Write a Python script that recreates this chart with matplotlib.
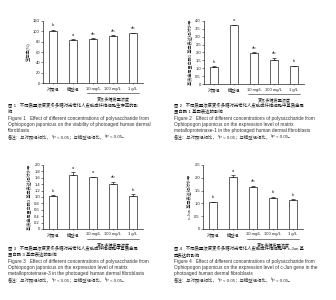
import matplotlib
matplotlib.use("Agg")
import matplotlib.pyplot as plt

plt.rcParams["font.family"] = ["Liberation Sans", "Noto Sans CJK SC"]

W, H = 336, 300

categories = ["对照组", "模型组", "10 mg/L", "100 mg/L", "1 g/L"]
group_label = "麦冬多糖质量浓度"

viability = [101, 83, 85, 91, 96]
viability_err = [1.5, 1.2, 1.0, 1.0, 1.2]
viability_sig = ["b", "a", "ab", "ab", "ab"]

mmp1 = [1.08, 3.70, 1.95, 1.55, 1.13]
mmp1_err = [0.04, 0.03, 0.05, 0.12, 0.03]
mmp1_sig = ["b", "a", "ab", "ab", "b"]

mmp3 = [1.04, 1.70, 1.61, 1.41, 1.04]
mmp3_err = [0.02, 0.07, 0.03, 0.07, 0.05]
mmp3_sig = ["b", "a", "a", "ab", "b"]

cjun = [1.04, 2.02, 1.65, 1.22, 1.13]
cjun_err = [0.02, 0.07, 0.04, 0.03, 0.03]
cjun_sig = ["b", "a", "ab", "b", "b"]

fig = plt.figure(figsize=(W / 100, H / 100), dpi=100)
fig.patch.set_facecolor("white")
renderer = fig.canvas.get_renderer()

TICK = 3.0
CAP = 3.3


def place(x0, ytop, x1, ybot):
    return fig.add_axes([x0 / W, 1 - ybot / H, (x1 - x0) / W, (ybot - ytop) / H])


def panel(ax, vals, errs, sig, ymax, step, fmt, ylabel):
    x = range(len(vals))
    ax.bar(x, vals, width=0.42, color="white", edgecolor="#222222", linewidth=0.5)
    ax.errorbar(x, vals, yerr=[[0] * len(errs), errs], fmt="none", ecolor="#222222",
                elinewidth=0.5, capsize=1.2, capthick=0.5)
    for i, (v, e, s) in enumerate(zip(vals, errs, sig)):
        ax.text(i, v + e + ymax * 0.04, s, ha="center", va="bottom",
                fontsize=TICK, color="#222222")
    ax.set_xlim(-0.5, 4.5)
    ax.set_ylim(0, ymax)
    ticks = [round(k * step, 2) for k in range(int(round(ymax / step)) + 1)]
    ax.set_yticks(ticks)
    ax.set_yticklabels(["0"] + [fmt % t for t in ticks[1:]])
    ax.set_xticks(list(x))
    ax.set_xticklabels(categories)
    for sp in ["top", "right"]:
        ax.spines[sp].set_visible(False)
    for sp in ["left", "bottom"]:
        ax.spines[sp].set_linewidth(0.5)
        ax.spines[sp].set_color("#222222")
    ax.tick_params(axis="y", length=1.2, width=0.4, pad=1, labelsize=TICK, colors="#222222")
    ax.tick_params(axis="x", length=1.0, width=0.4, pad=1.5, labelsize=TICK, colors="#222222")
    ax.set_ylabel(ylabel, fontsize=TICK, labelpad=2, color="#222222")
    # bracket for the three treated groups
    tr = ax.get_xaxis_transform()
    ax.plot([1.7, 4.3], [-0.155, -0.155], transform=tr, color="#222222",
            linewidth=0.4, clip_on=False)
    ax.text(3.0, -0.205, group_label, transform=tr, ha="center", va="top",
            fontsize=TICK, color="#222222")


def seq_text(x, y, parts):
    # draw a line made of pieces (for superscripts), x/y in pixels from top-left
    for s, size, dy in parts:
        t = fig.text(x / W, 1 - (y + dy) / H, s, fontsize=size, color="#333333",
                     va="baseline", ha="left")
        x += t.get_window_extent(renderer).width


def caption(x, y, lines_cn, lines_en):
    gap = 6.3
    for s in lines_cn:
        fig.text(x / W, 1 - y / H, s, fontsize=CAP - 0.15, color="#111111",
                 va="baseline", ha="left")
        y += gap
    for s in lines_en:
        fig.text(x / W, 1 - y / H, s, fontsize=CAP + 0.1, color="#333333",
                 va="baseline", ha="left")
        y += gap
    seq_text(x, y, [("备注：与对照组相比，", CAP - 0.15, 0), ("a", 2.2, -1.5),
                    ("P < 0.05；与模型组相比，", CAP - 0.15, 0), ("b", 2.2, -1.5),
                    ("P < 0.05。", CAP - 0.15, 0)])


ax1 = place(43, 20.7, 143, 83.3)
panel(ax1, viability, viability_err, viability_sig, 120, 20, "%d", "生存率(%)")

ax2 = place(204, 20.7, 304, 84.3)
panel(ax2, mmp1, mmp1_err, mmp1_sig, 4.0, 0.5, "%.1f", "基质金属蛋白酶1 基因表达相对水平")

ax3 = place(43, 165, 143, 229)
panel(ax3, mmp3, mmp3_err, mmp3_sig, 2.0, 0.2, "%.1f", "基质金属蛋白酶3 基因表达相对水平")

ax4 = place(203, 165, 303, 229)
panel(ax4, cjun, cjun_err, cjun_sig, 2.5, 0.5, "%.1f", "c-Jun 基因表达相对水平")

caption(8, 107,
        ["图 1   不同质量浓度麦冬多糖对光老化人皮肤成纤维细胞生存率的影", "响"],
        ["Figure 1   Effect of different concentrations of polysaccharide from",
         "Ophiopogon japonicus on the viability of photoaged human dermal",
         "fibroblasts"])
caption(174, 107,
        ["图 2   不同质量浓度麦冬多糖对光老化人皮肤成纤维细胞中基质金属", "蛋白酶 1 基因表达的影响"],
        ["Figure 2   Effect of different concentrations of polysaccharide from",
         "Ophiopogon japonicus on the expression level of matrix",
         "metalloproteinase-1 in the photoaged human dermal fibroblasts"])
caption(8, 250,
        ["图 3   不同质量浓度麦冬多糖对光老化人皮肤成纤维细胞中基质金属", "蛋白酶 3 基因表达的影响"],
        ["Figure 3   Effect of different concentrations of polysaccharide from",
         "Ophiopogon japonicus on the expression level of matrix",
         "metalloproteinase-3 in the photoaged human dermal fibroblasts"])
caption(174, 250,
        ["图 4   不同质量浓度麦冬多糖对光老化人皮肤成纤维细胞中 c-Jun 基", "因表达的影响"],
        ["Figure 4   Effect of different concentrations of polysaccharide from",
         "Ophiopogon japonicus on the expression level of c-Jun gene in the",
         "photoaged human dermal fibroblasts"])

fig.savefig("out.png", dpi=100)
